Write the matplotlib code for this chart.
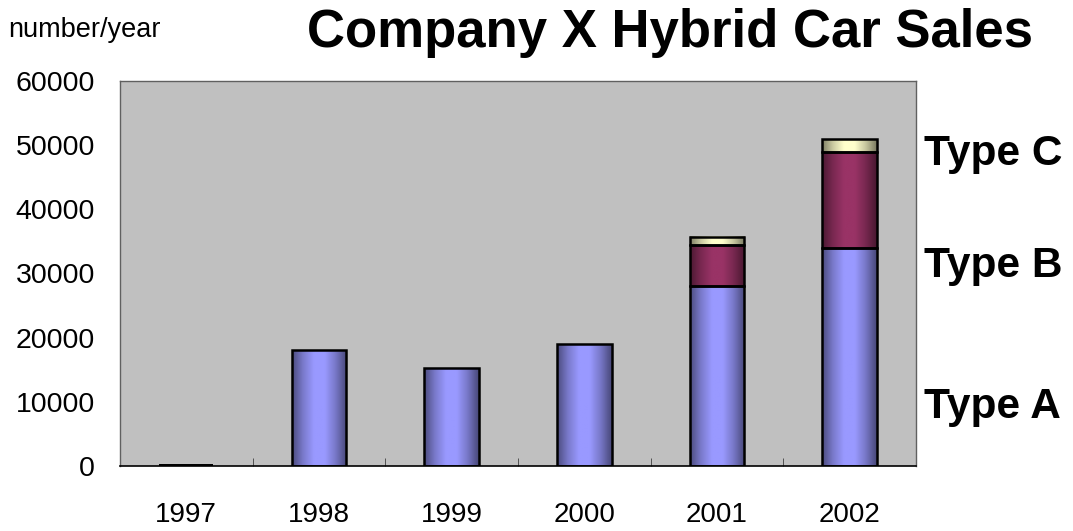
import numpy as np
import matplotlib.pyplot as plt
from matplotlib.colors import LinearSegmentedColormap, to_rgb

plt.rcParams['font.family'] = ['Liberation Sans', 'DejaVu Sans']

years = ['1997', '1998', '1999', '2000', '2001', '2002']
type_a = [300, 18000, 15200, 19000, 28000, 34000]
type_b = [0, 0, 0, 0, 6400, 15000]
type_c = [0, 0, 0, 0, 1300, 2000]

series = [('Type A', type_a, '#9999FF'), ('Type B', type_b, '#993366'), ('Type C', type_c, '#FFFFCC')]


def shade(color):
    # cylinder look: dark edges, light just left of centre
    c = np.array(to_rgb(color))
    dark = c * 0.5
    return LinearSegmentedColormap.from_list('s', [dark, c * 0.8, c, c, c * 0.78, dark * 0.95],
                                             N=64)


fig = plt.figure(figsize=(10.73, 5.31), dpi=100)
ax = fig.add_axes([0.1118, 0.1224, 0.7419, 0.7251])
ax.set_facecolor('#C0C0C0')

x = np.arange(len(years))
width = 0.41
grad = np.linspace(0, 1, 64).reshape(1, -1)
bottom = np.zeros(len(years))
for name, vals, col in series:
    vals = np.array(vals, dtype=float)
    cmap = shade(col)
    for i in range(len(years)):
        if vals[i] <= 0:
            continue
        x0, x1 = x[i] - width / 2, x[i] + width / 2
        y0, y1 = bottom[i], bottom[i] + vals[i]
        if vals[i] < 1000:
            ax.bar(x[i], vals[i], width, bottom=y0, color='black', zorder=3)
            continue
        ax.imshow(grad, cmap=cmap, aspect='auto', extent=(x0, x1, y0, y1), zorder=2,
                  interpolation='bilinear')
        ax.bar(x[i], vals[i], width, bottom=y0, facecolor='none', edgecolor='black',
               linewidth=1.8, zorder=3)
    bottom += vals

ax.set_xlim(-0.5, len(years) - 0.5)
ax.set_ylim(0, 60000)
ax.set_yticks(np.arange(0, 60001, 10000))
ax.set_xticks(x)
ax.set_xticklabels(years)
ax.set_xticks(np.arange(0.5, len(years) - 1, 1), minor=True)
ax.tick_params(axis='x', which='major', length=0, pad=26, labelsize=20)
ax.tick_params(axis='x', which='minor', direction='in', length=6, color='#404040')
ax.tick_params(axis='y', length=0, pad=18, labelsize=20.5)
for s in ['left', 'top', 'right']:
    ax.spines[s].set_color('#606060')
    ax.spines[s].set_linewidth(1)
ax.spines['bottom'].set_color('black')
ax.spines['bottom'].set_linewidth(1.2)

fig.text(0.6244, 1 - 47 / 531, 'Company X Hybrid Car Sales', ha='center', va='baseline',
         fontsize=38, fontweight='bold')
fig.text(0.008, 1 - 37 / 531, 'number/year', ha='left', va='baseline', fontsize=19.5)

label_base = [418, 277, 165]
for (name, _, _), py in zip(series, label_base):
    fig.text(0.861, 1 - py / 531, name, ha='left', va='baseline', fontsize=30.5, fontweight='bold')

fig.savefig('out.png', dpi=100)
